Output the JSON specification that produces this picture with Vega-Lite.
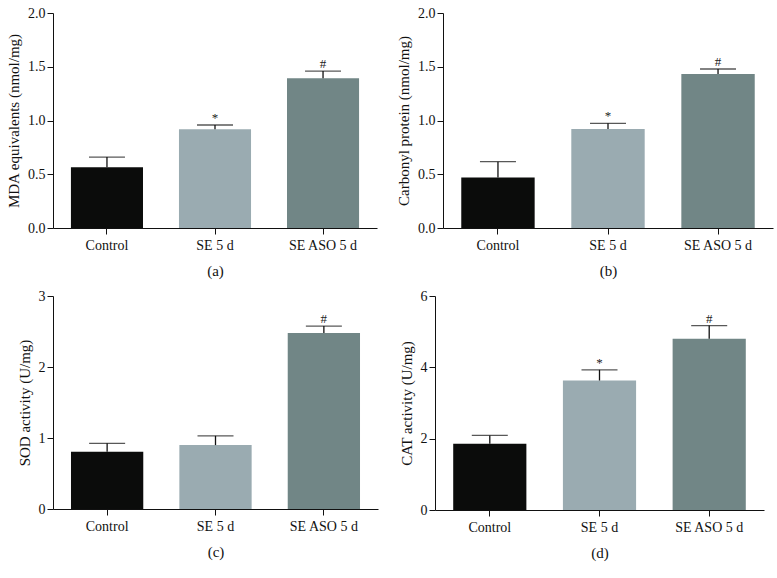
{
  "$schema": "https://vega.github.io/schema/vega-lite/v6.json",
  "background": "white",
  "padding": {"left": 6, "top": 6, "right": 5, "bottom": 5},
  "spacing": 11,
  "datasets": {
    "vals": [
      {"panel": "a", "group": "Control", "mean": 0.565, "upper": 0.66, "sig": ""},
      {"panel": "a", "group": "SE 5 d", "mean": 0.918, "upper": 0.958, "sig": "*"},
      {"panel": "a", "group": "SE ASO 5 d", "mean": 1.393, "upper": 1.46, "sig": "#"},
      {"panel": "b", "group": "Control", "mean": 0.47, "upper": 0.617, "sig": ""},
      {"panel": "b", "group": "SE 5 d", "mean": 0.92, "upper": 0.974, "sig": "*"},
      {"panel": "b", "group": "SE ASO 5 d", "mean": 1.433, "upper": 1.479, "sig": "#"},
      {"panel": "c", "group": "Control", "mean": 0.807, "upper": 0.925, "sig": ""},
      {"panel": "c", "group": "SE 5 d", "mean": 0.9, "upper": 1.03, "sig": ""},
      {"panel": "c", "group": "SE ASO 5 d", "mean": 2.48, "upper": 2.577, "sig": "#"},
      {"panel": "d", "group": "Control", "mean": 1.86, "upper": 2.09, "sig": ""},
      {"panel": "d", "group": "SE 5 d", "mean": 3.63, "upper": 3.93, "sig": "*"},
      {"panel": "d", "group": "SE ASO 5 d", "mean": 4.8, "upper": 5.17, "sig": "#"}
    ]
  },
  "config": {
    "view": {"stroke": null},
    "font": "Liberation Serif",
    "axis": {
      "labelFont": "Liberation Serif",
      "titleFont": "Liberation Serif",
      "labelFontSize": 14,
      "titleFontSize": 15,
      "titleFontWeight": "normal",
      "labelColor": "#111",
      "titleColor": "#111",
      "domainColor": "#111",
      "tickColor": "#111",
      "tickSize": 6,
      "grid": false
    }
  },
  "vconcat": [
    {
      "spacing": 19,
      "hconcat": [
        {
          "width": 324, "height": 215,
          "data": {"name": "vals"},
          "transform": [{"filter": "datum.panel === 'a'"}],
          "encoding": {
            "x": {"field": "group", "type": "nominal", "sort": null, "scale": {"paddingInner": 0.333, "paddingOuter": 0.166},
                  "axis": {"labelAngle": 0, "title": "(a)", "titlePadding": 11, "labelPadding": 4}}
          },
          "layer": [
            {"mark": {"type": "bar"},
             "encoding": {
               "y": {"field": "mean", "type": "quantitative", "scale": {"domain": [0, 2]},
                     "axis": {"values": [0, 0.5, 1, 1.5, 2], "format": ".1f", "title": "MDA equivalents (nmol/mg)", "titlePadding": 6}},
               "color": {"field": "group", "type": "nominal", "sort": null, "legend": null,
                         "scale": {"domain": ["Control", "SE 5 d", "SE ASO 5 d"], "range": ["#0b0c0b", "#9aabb1", "#718686"]}}
             }},
            {"mark": {"type": "rule", "color": "#111", "strokeWidth": 1.3},
             "encoding": {"y": {"field": "mean", "type": "quantitative"}, "y2": {"field": "upper"}}},
            {"mark": {"type": "tick", "color": "#111", "size": 36, "thickness": 1.3, "orient": "horizontal"},
             "encoding": {"y": {"field": "upper", "type": "quantitative"}}},
            {"mark": {"type": "text", "font": "Liberation Serif", "fontSize": 13, "baseline": "alphabetic", "dy": -3, "color": "#222"},
             "encoding": {"y": {"field": "upper", "type": "quantitative"}, "text": {"field": "sig"}}}
          ]
        },
        {
          "width": 330, "height": 215,
          "data": {"name": "vals"},
          "transform": [{"filter": "datum.panel === 'b'"}],
          "encoding": {
            "x": {"field": "group", "type": "nominal", "sort": null, "scale": {"paddingInner": 0.333, "paddingOuter": 0.166},
                  "axis": {"labelAngle": 0, "title": "(b)", "titlePadding": 11, "labelPadding": 4}}
          },
          "layer": [
            {"mark": {"type": "bar"},
             "encoding": {
               "y": {"field": "mean", "type": "quantitative", "scale": {"domain": [0, 2]},
                     "axis": {"values": [0, 0.5, 1, 1.5, 2], "format": ".1f", "title": "Carbonyl protein (nmol/mg)", "titlePadding": 6}},
               "color": {"field": "group", "type": "nominal", "sort": null, "legend": null,
                         "scale": {"domain": ["Control", "SE 5 d", "SE ASO 5 d"], "range": ["#0b0c0b", "#9aabb1", "#718686"]}}
             }},
            {"mark": {"type": "rule", "color": "#111", "strokeWidth": 1.3},
             "encoding": {"y": {"field": "mean", "type": "quantitative"}, "y2": {"field": "upper"}}},
            {"mark": {"type": "tick", "color": "#111", "size": 36, "thickness": 1.3, "orient": "horizontal"},
             "encoding": {"y": {"field": "upper", "type": "quantitative"}}},
            {"mark": {"type": "text", "font": "Liberation Serif", "fontSize": 13, "baseline": "alphabetic", "dy": -3, "color": "#222"},
             "encoding": {"y": {"field": "upper", "type": "quantitative"}, "text": {"field": "sig"}}}
          ]
        }
      ]
    },
    {
      "spacing": 21,
      "hconcat": [
        {
          "width": 325, "height": 213,
          "data": {"name": "vals"},
          "transform": [{"filter": "datum.panel === 'c'"}],
          "encoding": {
            "x": {"field": "group", "type": "nominal", "sort": null, "scale": {"paddingInner": 0.333, "paddingOuter": 0.166},
                  "axis": {"labelAngle": 0, "title": "(c)", "titlePadding": 11, "labelPadding": 4}}
          },
          "layer": [
            {"mark": {"type": "bar"},
             "encoding": {
               "y": {"field": "mean", "type": "quantitative", "scale": {"domain": [0, 3]},
                     "axis": {"values": [0, 1, 2, 3], "format": "d", "title": "SOD activity (U/mg)", "titlePadding": 6}},
               "color": {"field": "group", "type": "nominal", "sort": null, "legend": null,
                         "scale": {"domain": ["Control", "SE 5 d", "SE ASO 5 d"], "range": ["#0b0c0b", "#9aabb1", "#718686"]}}
             }},
            {"mark": {"type": "rule", "color": "#111", "strokeWidth": 1.3},
             "encoding": {"y": {"field": "mean", "type": "quantitative"}, "y2": {"field": "upper"}}},
            {"mark": {"type": "tick", "color": "#111", "size": 36, "thickness": 1.3, "orient": "horizontal"},
             "encoding": {"y": {"field": "upper", "type": "quantitative"}}},
            {"mark": {"type": "text", "font": "Liberation Serif", "fontSize": 13, "baseline": "alphabetic", "dy": -3, "color": "#222"},
             "encoding": {"y": {"field": "upper", "type": "quantitative"}, "text": {"field": "sig"}}}
          ]
        },
        {
          "width": 329, "height": 214,
          "data": {"name": "vals"},
          "transform": [{"filter": "datum.panel === 'd'"}],
          "encoding": {
            "x": {"field": "group", "type": "nominal", "sort": null, "scale": {"paddingInner": 0.333, "paddingOuter": 0.166},
                  "axis": {"labelAngle": 0, "title": "(d)", "titlePadding": 11, "labelPadding": 4}}
          },
          "layer": [
            {"mark": {"type": "bar"},
             "encoding": {
               "y": {"field": "mean", "type": "quantitative", "scale": {"domain": [0, 6]},
                     "axis": {"values": [0, 2, 4, 6], "format": "d", "title": "CAT activity (U/mg)", "titlePadding": 6}},
               "color": {"field": "group", "type": "nominal", "sort": null, "legend": null,
                         "scale": {"domain": ["Control", "SE 5 d", "SE ASO 5 d"], "range": ["#0b0c0b", "#9aabb1", "#718686"]}}
             }},
            {"mark": {"type": "rule", "color": "#111", "strokeWidth": 1.3},
             "encoding": {"y": {"field": "mean", "type": "quantitative"}, "y2": {"field": "upper"}}},
            {"mark": {"type": "tick", "color": "#111", "size": 36, "thickness": 1.3, "orient": "horizontal"},
             "encoding": {"y": {"field": "upper", "type": "quantitative"}}},
            {"mark": {"type": "text", "font": "Liberation Serif", "fontSize": 13, "baseline": "alphabetic", "dy": -3, "color": "#222"},
             "encoding": {"y": {"field": "upper", "type": "quantitative"}, "text": {"field": "sig"}}}
          ]
        }
      ]
    }
  ]
}
